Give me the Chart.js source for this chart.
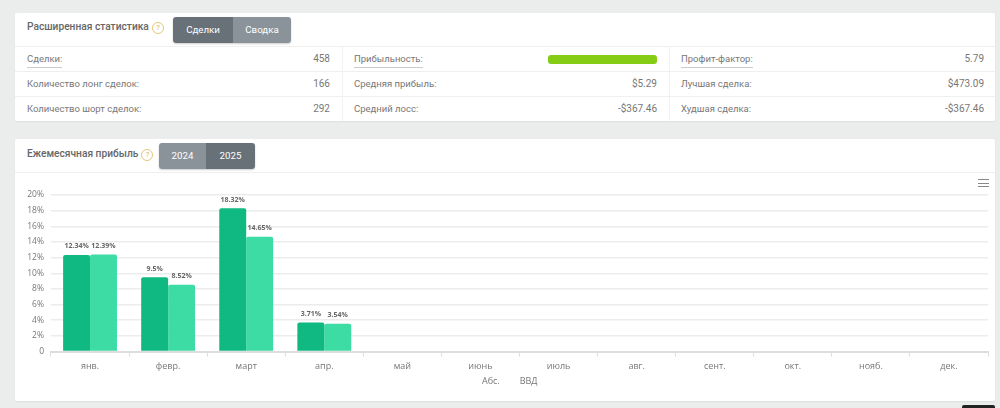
<!DOCTYPE html>
<html>
<head>
<meta charset="utf-8">
<script src="https://cdn.jsdelivr.net/npm/chart.js@4"></script>
<style>
html, body { margin: 0; padding: 0; }
body { width: 1000px; height: 408px; background: #ebecec; font-family: Roboto, sans-serif; color: #777; overflow: hidden; position: relative; }
.card { position: absolute; left: 15px; width: 980px; background: #fff; border-radius: 2px; box-shadow: 0 1px 2px rgba(0,0,0,.06); }
.title { position: absolute; left: 12px; font-size: 10.2px; font-weight: 500; color: #666; white-space: nowrap; }
.help { display: inline-block; width: 10px; height: 10px; line-height: 10px; border: 1px solid #e3c778; border-radius: 50%; color: #d9b95f; font-size: 8px; text-align: center; margin-left: 3px; font-weight: 400; vertical-align: 0; }
.btns { position: absolute; display: flex; height: 26px; line-height: 26px; border-radius: 3px; overflow: hidden; color: #fff; font-size: 9.7px; text-align: center; box-shadow: 0 1px 2px rgba(0,0,0,.2); }
.on { background: #687178; } .off { background: #8a939a; }
.hline { position: absolute; left: 0; width: 980px; height: 1px; background: #efefef; }
.vline { position: absolute; width: 1px; top: 34px; height: 74px; background: #f2f2f2; }
.cell { position: absolute; font-size: 9.5px; line-height: 14px; white-space: nowrap; }
.dot { border-bottom: 1px solid #ccc; padding-bottom: 1px; }
.val { text-align: right; font-size: 10px; }
.bar { position: absolute; left: 533px; top: 42px; width: 109px; height: 9px; border-radius: 3px; background: #84cc16; }
.menu { position: absolute; left: 963px; top: 40px; width: 11px; height: 6px; border-top: 1px solid #888; border-bottom: 1px solid #888; }
.menu:after { content: ""; position: absolute; left: 0; right: 0; top: 2.5px; height: 1px; background: #888; }
canvas { position: absolute; left: 0; top: 34px; }
.corner { position: absolute; left: 962px; top: 405px; width: 33px; height: 3px; background: #222; border-radius: 2px 2px 0 0; }
</style>
</head>
<body>
<div class="card" style="top:13px;height:108px" id="stats">
  <div class="title" style="top:8px">Расширенная статистика<span class="help">?</span></div>
  <div class="btns" style="left:158px;top:4px"><div class="on" style="width:60px">Сделки</div><div class="off" style="width:58px">Сводка</div></div>
  <div class="hline" style="top:33px"></div>
  <div class="hline" style="top:58px"></div>
  <div class="hline" style="top:83px"></div>
  <div class="vline" style="left:327px"></div>
  <div class="vline" style="left:654px"></div>
  <div class="bar"></div>
</div>
<div class="card" style="top:139px;height:262px">
  <div class="title" style="top:9px">Ежемесячная прибыль<span class="help">?</span></div>
  <div class="btns" style="left:144px;top:4px"><div class="off" style="width:47px">2024</div><div class="on" style="width:49px">2025</div></div>
  <div class="hline" style="top:33px"></div>
  <canvas id="chart" width="980" height="228"></canvas>
  <div class="menu"></div>
</div>
<div class="corner"></div>
<script>
var months = ["янв.", "февр.", "март", "апр.", "май", "июнь", "июль", "авг.", "сент.", "окт.", "нояб.", "дек."];
var absValues = [12.34, 9.5, 18.32, 3.71, null, null, null, null, null, null, null, null];
var vvdValues = [12.39, 8.52, 14.65, 3.54, null, null, null, null, null, null, null, null];
var yTicks = [0, 2, 4, 6, 8, 10, 12, 14, 16, 18, 20];

var statLabels = [
	["Сделки:", "Количество лонг сделок:", "Количество шорт сделок:"],
	["Прибыльность:", "Средняя прибыль:", "Средний лосс:"],
	["Профит-фактор:", "Лучшая сделка:", "Худшая сделка:"]
];
var statValues = [
	["458", "166", "292"],
	["", "$5.29", "-$367.46"],
	["5.79", "$473.09", "-$367.46"]
];
var dottedLabels = ["Сделки:", "Прибыльность:", "Профит-фактор:"];

var $stats = document.getElementById("stats");
var colLeft = [12, 339, 666];
var colRight = [315, 642, 969];
var rowTop = [39, 64, 89];
statLabels.forEach(function (col, c) {
	col.forEach(function (text, r) {
		var el = document.createElement("div");
		el.className = "cell" + (dottedLabels.indexOf(text) > -1 ? " dot" : "");
		el.style.left = colLeft[c] + "px";
		el.style.top = rowTop[r] + "px";
		el.textContent = text;
		$stats.appendChild(el);
		if (statValues[c][r]) {
			var v = document.createElement("div");
			v.className = "cell val";
			v.style.right = (980 - colRight[c]) + "px";
			v.style.top = rowTop[r] + "px";
			v.textContent = statValues[c][r];
			$stats.appendChild(v);
		}
	});
});

// value labels above the bars
var barLabels = {
	id: "barLabels",
	afterDatasetsDraw: function (chart) {
		var ctx = chart.ctx;
		ctx.save();
		ctx.font = "bold 7px 'Open Sans', sans-serif";
		ctx.fillStyle = "#666";
		ctx.textAlign = "center";
		ctx.textBaseline = "bottom";
		chart.data.datasets.forEach(function (ds, i) {
			chart.getDatasetMeta(i).data.forEach(function (bar, j) {
				if (ds.data[j] == null) return;
				ctx.fillText(ds.data[j] + "%", bar.x, bar.y - 5);
			});
		});
		ctx.restore();
	}
};

new Chart(document.getElementById("chart"), {
	type: "bar",
	plugins: [barLabels],
	data: {
		labels: months,
		datasets: [
			{ label: "Абс.", data: absValues, backgroundColor: "#10b981", borderRadius: 2, categoryPercentage: 0.69, barPercentage: 1 },
			{ label: "ВВД", data: vvdValues, backgroundColor: "#3ddca4", borderRadius: 2, categoryPercentage: 0.69, barPercentage: 1 }
		]
	},
	options: {
		responsive: false,
		animation: false,
		layout: { padding: { top: 22, right: 7, left: 0, bottom: 5 } },
		plugins: {
			tooltip: { enabled: false },
			legend: {
				position: "bottom",
				labels: {
					boxWidth: 12, boxHeight: 7, padding: 3.5, color: "#777",
					font: { family: "'Open Sans', sans-serif", size: 9 },
					// the original legend shows text only
					generateLabels: function (chart) {
						var items = Chart.defaults.plugins.legend.labels.generateLabels(chart);
						items.forEach(function (item) {
							item.fillStyle = "transparent";
							item.strokeStyle = "transparent";
							item.lineWidth = 0;
						});
						return items;
					}
				}
			}
		},
		scales: {
			x: {
				// tall enough that the tick labels are not clipped at the scale edge
				afterFit: function (scale) { scale.height = 22; },
				grid: { drawOnChartArea: false, tickLength: 5, color: "#ddd" },
				border: { color: "#ddd", width: 2 },
				ticks: { color: "#777", padding: 5, font: { family: "'Open Sans', sans-serif", size: 9 }, maxRotation: 0 }
			},
			y: {
				min: 0, max: 20,
				afterBuildTicks: function (scale) { scale.ticks = yTicks.map(function (v) { return { value: v }; }); },
				afterFit: function (scale) { scale.width = 36; },
				grid: { color: "#ececec", lineWidth: 1.5, drawTicks: false },
				border: { display: false },
				ticks: {
					color: "#777", padding: 7, font: { family: "'Open Sans', sans-serif", size: 8.5 },
					callback: function (v) { return v === 0 ? "0" : v + "%"; }
				}
			}
		}
	}
});
</script>
</body>
</html>
